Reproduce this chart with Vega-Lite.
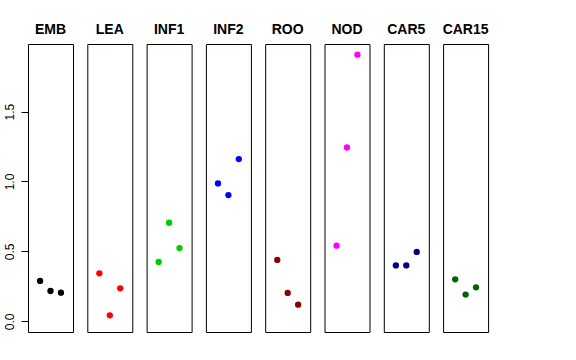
{
  "$schema": "https://vega.github.io/schema/vega-lite/v6.json",
  "padding": {"left": 3, "top": 23, "right": 5, "bottom": 5},
  "background": "white",
  "data": {"values": [
    {"tissue": "EMB", "x": 1, "y": 0.289},
    {"tissue": "EMB", "x": 2, "y": 0.217},
    {"tissue": "EMB", "x": 3, "y": 0.205},
    {"tissue": "LEA", "x": 1, "y": 0.343},
    {"tissue": "LEA", "x": 2, "y": 0.043},
    {"tissue": "LEA", "x": 3, "y": 0.236},
    {"tissue": "INF1", "x": 1, "y": 0.424},
    {"tissue": "INF1", "x": 2, "y": 0.705},
    {"tissue": "INF1", "x": 3, "y": 0.524},
    {"tissue": "INF2", "x": 1, "y": 0.986},
    {"tissue": "INF2", "x": 2, "y": 0.903},
    {"tissue": "INF2", "x": 3, "y": 1.160},
    {"tissue": "ROO", "x": 1, "y": 0.439},
    {"tissue": "ROO", "x": 2, "y": 0.203},
    {"tissue": "ROO", "x": 3, "y": 0.119},
    {"tissue": "NOD", "x": 1, "y": 0.541},
    {"tissue": "NOD", "x": 2, "y": 1.243},
    {"tissue": "NOD", "x": 3, "y": 1.907},
    {"tissue": "CAR5", "x": 1, "y": 0.400},
    {"tissue": "CAR5", "x": 2, "y": 0.400},
    {"tissue": "CAR5", "x": 3, "y": 0.496},
    {"tissue": "CAR15", "x": 1, "y": 0.300},
    {"tissue": "CAR15", "x": 2, "y": 0.191},
    {"tissue": "CAR15", "x": 3, "y": 0.243}
  ]},
  "facet": {
    "column": {
      "field": "tissue",
      "type": "nominal",
      "sort": ["EMB", "LEA", "INF1", "INF2", "ROO", "NOD", "CAR5", "CAR15"],
      "title": null,
      "header": {
        "labelFont": "Liberation Sans",
        "labelFontSize": 14,
        "labelFontWeight": "bold",
        "labelColor": "black",
        "labelPadding": 7
      }
    }
  },
  "spacing": 14.3,
  "bounds": "flush",
  "spec": {
    "width": 45,
    "height": 288,
    "mark": {"type": "point", "filled": true, "opacity": 1, "size": 40},
    "encoding": {
      "x": {
        "field": "x", "type": "quantitative",
        "scale": {"domain": [-0.16, 4.16], "nice": false, "zero": false},
        "axis": null
      },
      "y": {
        "field": "y", "type": "quantitative",
        "scale": {"domain": [-0.0763, 1.983], "nice": false, "zero": false},
        "axis": {
          "title": null,
          "values": [0, 0.5, 1, 1.5],
          "format": ".1f",
          "grid": false,
          "domain": false,
          "tickSize": 7,
          "tickColor": "black",
          "labelAngle": -90,
          "labelFont": "Liberation Sans",
          "labelFontSize": 12,
          "labelColor": "black",
          "labelPadding": 5
        }
      },
      "color": {
        "field": "tissue", "type": "nominal", "legend": null,
        "scale": {
          "domain": ["EMB", "LEA", "INF1", "INF2", "ROO", "NOD", "CAR5", "CAR15"],
          "range": ["#000000", "#FF0000", "#00CD00", "#0000FF", "#8B0000", "#FF00FF", "#000080", "#006400"]
        }
      }
    }
  },
  "config": {
    "view": {"stroke": "black", "strokeWidth": 1},
    "point": {"strokeWidth": 0}
  }
}
